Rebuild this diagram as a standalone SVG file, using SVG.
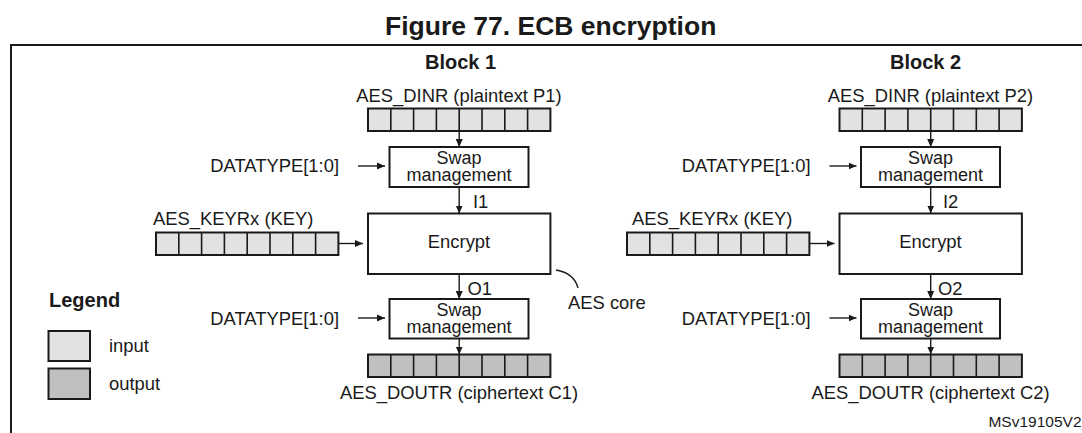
<svg xmlns="http://www.w3.org/2000/svg" width="1082" height="433" viewBox="0 0 1082 433">
<style>
text{font-family:"Liberation Sans",Arial,Helvetica,sans-serif;fill:#1a1a1a}
.t{font-size:18.4px}
.s{font-size:18px}
.b{font-weight:bold}
.m{text-anchor:middle}
.e{text-anchor:end}
.box{fill:#fff;stroke:#1a1a1a;stroke-width:2}
.in{fill:#e2e2e2;stroke:#1a1a1a;stroke-width:2}
.out{fill:#c0c0c0;stroke:#1a1a1a;stroke-width:2}
.div{stroke:#1a1a1a;stroke-width:1.6;fill:none}
.c{stroke:#1a1a1a;stroke-width:1.4;fill:none}
.a{marker-end:url(#ah)}
</style>
<defs>
<marker id="ah" markerUnits="userSpaceOnUse" markerWidth="9" markerHeight="8" refX="8" refY="4" orient="auto"><path d="M0,0.5 L8,4 L0,7.5z" fill="#1a1a1a"/></marker>
<path id="dv" class="div" d="M22.8,0v22.5M45.6,0v22.5M68.4,0v22.5M91.2,0v22.5M114,0v22.5M136.8,0v22.5M159.6,0v22.5"/>
</defs>
<rect x="11" y="45" width="1100" height="420" fill="none" stroke="#1a1a1a" stroke-width="2"/>
<text x="385" y="35" class="b" font-size="26.5">Figure 77. ECB encryption</text>

<g id="connectors">
<path class="c a" d="M459.2,131 V147"/>
<path class="c a" d="M358,166 H385"/>
<path class="c a" d="M459.2,187 V213.5"/>
<path class="c a" d="M338.4,243.5 H363"/>
<path class="c a" d="M459.2,274 V299"/>
<path class="c a" d="M358,318 H385"/>
<path class="c a" d="M459.2,338.5 V354.5"/>
<path class="c" d="M556,270 Q574,273 578,288"/>
<path class="c a" d="M930.7,131 V147"/>
<path class="c a" d="M829.5,166 H856.5"/>
<path class="c a" d="M930.7,187 V213.5"/>
<path class="c a" d="M809.4,243.5 H834.5"/>
<path class="c a" d="M930.7,274 V299"/>
<path class="c a" d="M829.5,318 H856.5"/>
<path class="c a" d="M930.7,338.5 V354.5"/>
</g>

<g id="block1">
<text x="425" y="68.5" class="b" font-size="20">Block 1</text>
<g id="b1-din">
<text x="459" y="101.5" class="t m">AES_DINR (plaintext P1)</text>
<rect x="368" y="108.5" width="182.4" height="22.5" class="in"/>
<use href="#dv" x="368" y="108.5"/>
</g>
<g id="b1-swap1">
<rect x="389.5" y="147" width="139" height="40" class="box"/>
<text x="459" y="163.5" class="s m">Swap</text>
<text x="459" y="180.5" class="s m">management</text>
</g>
<text id="b1-dt1" x="339" y="172" class="t e">DATATYPE[1:0]</text>
<text x="473" y="208" class="t">I1</text>
<g id="b1-key">
<text x="153" y="225" class="t">AES_KEYRx (KEY)</text>
<rect x="156" y="232.5" width="182.4" height="22.5" class="in"/>
<use href="#dv" x="156" y="232.5"/>
</g>
<g id="b1-enc">
<rect x="368" y="213.5" width="182.4" height="60.5" class="box"/>
<text x="459" y="248" class="t m">Encrypt</text>
</g>
<text x="467.5" y="295" class="t">O1</text>
<text id="aescore" x="568" y="309" class="t">AES core</text>
<g id="b1-swap2">
<rect x="389.5" y="299" width="139" height="39.5" class="box"/>
<text x="459" y="315.5" class="s m">Swap</text>
<text x="459" y="332.5" class="s m">management</text>
</g>
<text id="b1-dt2" x="339" y="325" class="t e">DATATYPE[1:0]</text>
<g id="b1-dout">
<rect x="368" y="354.5" width="182.4" height="22.5" class="out"/>
<use href="#dv" x="368" y="354.5"/>
<text x="459" y="398.5" class="t m">AES_DOUTR (ciphertext C1)</text>
</g>
</g>

<g id="block2">
<text x="890" y="68.5" class="b" font-size="20">Block 2</text>
<g id="b2-din">
<text x="930.5" y="101.5" class="t m">AES_DINR (plaintext P2)</text>
<rect x="839.5" y="108.5" width="182.4" height="22.5" class="in"/>
<use href="#dv" x="839.5" y="108.5"/>
</g>
<g id="b2-swap1">
<rect x="861" y="147" width="139" height="40" class="box"/>
<text x="930.5" y="163.5" class="s m">Swap</text>
<text x="930.5" y="180.5" class="s m">management</text>
</g>
<text id="b2-dt1" x="810.5" y="172" class="t e">DATATYPE[1:0]</text>
<text x="943" y="208" class="t">I2</text>
<g id="b2-key">
<text x="632" y="225" class="t">AES_KEYRx (KEY)</text>
<rect x="627" y="232.5" width="182.4" height="22.5" class="in"/>
<use href="#dv" x="627" y="232.5"/>
</g>
<g id="b2-enc">
<rect x="839.5" y="213.5" width="182.4" height="60.5" class="box"/>
<text x="930.5" y="248" class="t m">Encrypt</text>
</g>
<text x="938" y="295" class="t">O2</text>
<g id="b2-swap2">
<rect x="861" y="299" width="139" height="39.5" class="box"/>
<text x="930.5" y="315.5" class="s m">Swap</text>
<text x="930.5" y="332.5" class="s m">management</text>
</g>
<text id="b2-dt2" x="810.5" y="325" class="t e">DATATYPE[1:0]</text>
<g id="b2-dout">
<rect x="839.5" y="354.5" width="182.4" height="22.5" class="out"/>
<use href="#dv" x="839.5" y="354.5"/>
<text x="930.5" y="398.5" class="t m">AES_DOUTR (ciphertext C2)</text>
</g>
</g>

<g id="legend">
<text x="49" y="307" class="b" font-size="20">Legend</text>
<rect x="48.5" y="331" width="41.5" height="30" class="in" stroke-width="1.6"/>
<text x="109" y="352" class="t">input</text>
<rect x="48.5" y="368.5" width="41.5" height="30.5" class="out" stroke-width="1.6"/>
<text x="109" y="390" class="t">output</text>
</g>
<text id="ref" x="1081.5" y="426.5" class="e" font-size="15.5">MSv19105V2</text>
</svg>
